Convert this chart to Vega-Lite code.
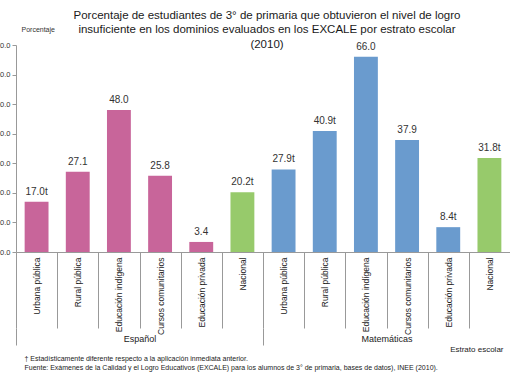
{
  "$schema": "https://vega.github.io/schema/vega-lite/v6.json",
  "autosize": {"type": "none"},
  "padding": {"left": 16, "top": 45, "right": 0, "bottom": 130},
  "width": 494,
  "height": 207,
  "background": "white",
  "config": {
    "view": {"stroke": null},
    "font": "Liberation Sans",
    "axis": {"grid": false, "labelFont": "Liberation Sans", "titleFont": "Liberation Sans", "titleFontWeight": "normal"}
  },
  "title": {
    "text": ["Porcentaje de estudiantes de 3° de primaria que obtuvieron el nivel de logro", "insuficiente en los dominios evaluados en los EXCALE por estrato escolar", "(2010)"],
    "fontSize": 11.5,
    "fontWeight": "normal",
    "color": "#1a1a1a",
    "lineHeight": 14.5,
    "anchor": "middle",
    "frame": "group",
    "dx": 4,
    "offset": -25
  },
  "data": {
    "values": [
      {"materia": "Español", "estrato": "Urbana pública", "key": "Español|Urbana pública", "valor": 17.0, "etiqueta": "17.0t", "serie": "Español"},
      {"materia": "Español", "estrato": "Rural pública", "key": "Español|Rural pública", "valor": 27.1, "etiqueta": "27.1", "serie": "Español"},
      {"materia": "Español", "estrato": "Educación indígena", "key": "Español|Educación indígena", "valor": 48.0, "etiqueta": "48.0", "serie": "Español"},
      {"materia": "Español", "estrato": "Cursos comunitarios", "key": "Español|Cursos comunitarios", "valor": 25.8, "etiqueta": "25.8", "serie": "Español"},
      {"materia": "Español", "estrato": "Educación privada", "key": "Español|Educación privada", "valor": 3.4, "etiqueta": "3.4", "serie": "Español"},
      {"materia": "Español", "estrato": "Nacional", "key": "Español|Nacional", "valor": 20.2, "etiqueta": "20.2t", "serie": "Nacional"},
      {"materia": "Matemáticas", "estrato": "Urbana pública", "key": "Matemáticas|Urbana pública", "valor": 27.9, "etiqueta": "27.9t", "serie": "Matemáticas"},
      {"materia": "Matemáticas", "estrato": "Rural pública", "key": "Matemáticas|Rural pública", "valor": 40.9, "etiqueta": "40.9t", "serie": "Matemáticas"},
      {"materia": "Matemáticas", "estrato": "Educación indígena", "key": "Matemáticas|Educación indígena", "valor": 66.0, "etiqueta": "66.0", "serie": "Matemáticas"},
      {"materia": "Matemáticas", "estrato": "Cursos comunitarios", "key": "Matemáticas|Cursos comunitarios", "valor": 37.9, "etiqueta": "37.9", "serie": "Matemáticas"},
      {"materia": "Matemáticas", "estrato": "Educación privada", "key": "Matemáticas|Educación privada", "valor": 8.4, "etiqueta": "8.4t", "serie": "Matemáticas"},
      {"materia": "Matemáticas", "estrato": "Nacional", "key": "Matemáticas|Nacional", "valor": 31.8, "etiqueta": "31.8t", "serie": "Nacional"}
    ]
  },
  "layer": [
    {
      "mark": {"type": "bar", "width": {"band": 0.58}},
      "encoding": {
        "x": {
          "field": "key", "type": "nominal", "sort": null,
          "scale": {"paddingInner": 0, "paddingOuter": 0},
          "axis": {
            "title": null,
            "labelAngle": -90,
            "labelExpr": "split(datum.label, '|')[1]",
            "labelFontSize": 8.5,
            "labelColor": "#222",
            "labelPadding": -71,
            "labelLimit": 200,
            "tickBand": "extent",
            "tickSize": 76,
            "tickColor": "#999",
            "domainColor": "#999"
          }
        },
        "y": {
          "field": "valor", "type": "quantitative",
          "scale": {"domain": [0, 70]},
          "axis": {
            "orient": "left",
            "values": [0, 10, 20, 30, 40, 50, 60, 70],
            "format": ".1f",
            "labelFontSize": 7.5,
            "labelColor": "#333",
            "labelPadding": 2,
            "tickSize": 4,
            "tickColor": "#999",
            "domainColor": "#999",
            "title": "Porcentaje",
            "titleAngle": 0,
            "titleX": 5,
            "titleY": -16,
            "titleAlign": "left",
            "titleBaseline": "middle",
            "titleFontSize": 7,
            "titleColor": "#333"
          }
        },
        "color": {
          "field": "serie", "type": "nominal",
          "scale": {"domain": ["Español", "Matemáticas", "Nacional"], "range": ["#C8659A", "#6A9BCE", "#97CA6B"]},
          "legend": null
        }
      }
    },
    {
      "mark": {"type": "text", "baseline": "middle", "dy": -10, "fontSize": 10, "color": "#333"},
      "encoding": {
        "x": {"field": "key", "type": "nominal", "sort": null, "scale": {"paddingInner": 0, "paddingOuter": 0}, "axis": null},
        "y": {"field": "valor", "type": "quantitative", "axis": null},
        "text": {"field": "etiqueta", "type": "nominal"}
      }
    },
    {
      "mark": {"type": "point", "opacity": 0},
      "encoding": {
        "x": {
          "field": "materia", "type": "nominal", "sort": null,
          "scale": {"paddingInner": 0, "paddingOuter": 0},
          "axis": {
            "orient": "bottom",
            "offset": 76,
            "domain": false,
            "tickBand": "extent",
            "tickSize": 17,
            "tickColor": "#999",
            "labelAngle": 0,
            "labelPadding": -11,
            "labelFontSize": 9,
            "labelColor": "#222",
            "title": "Estrato escolar",
            "titleX": 487,
            "titleY": 21,
            "titleAlign": "right",
            "titleBaseline": "middle",
            "titleFontSize": 8,
            "titleColor": "#222"
          }
        },
        "y": {
          "field": "valor", "type": "quantitative",
          "axis": {
            "orient": "right",
            "labels": false,
            "ticks": false,
            "domain": false,
            "title": ["† Estadísticamente diferente respecto a la aplicación inmediata anterior.", "Fuente:  Exámenes de la Calidad y el Logro Educativos (EXCALE)  para los alumnos de  3° de primaria, bases de datos), INEE (2010)."],
            "titleAngle": 0,
            "titleX": -486,
            "titleY": 309,
            "titleAlign": "left",
            "titleBaseline": "top",
            "titleFontSize": 7,
            "titleLineHeight": 9.5,
            "titleColor": "#222"
          }
        }
      }
    }
  ],
  "resolve": {"scale": {"x": "independent"}, "axis": {"x": "independent", "y": "independent"}}
}
